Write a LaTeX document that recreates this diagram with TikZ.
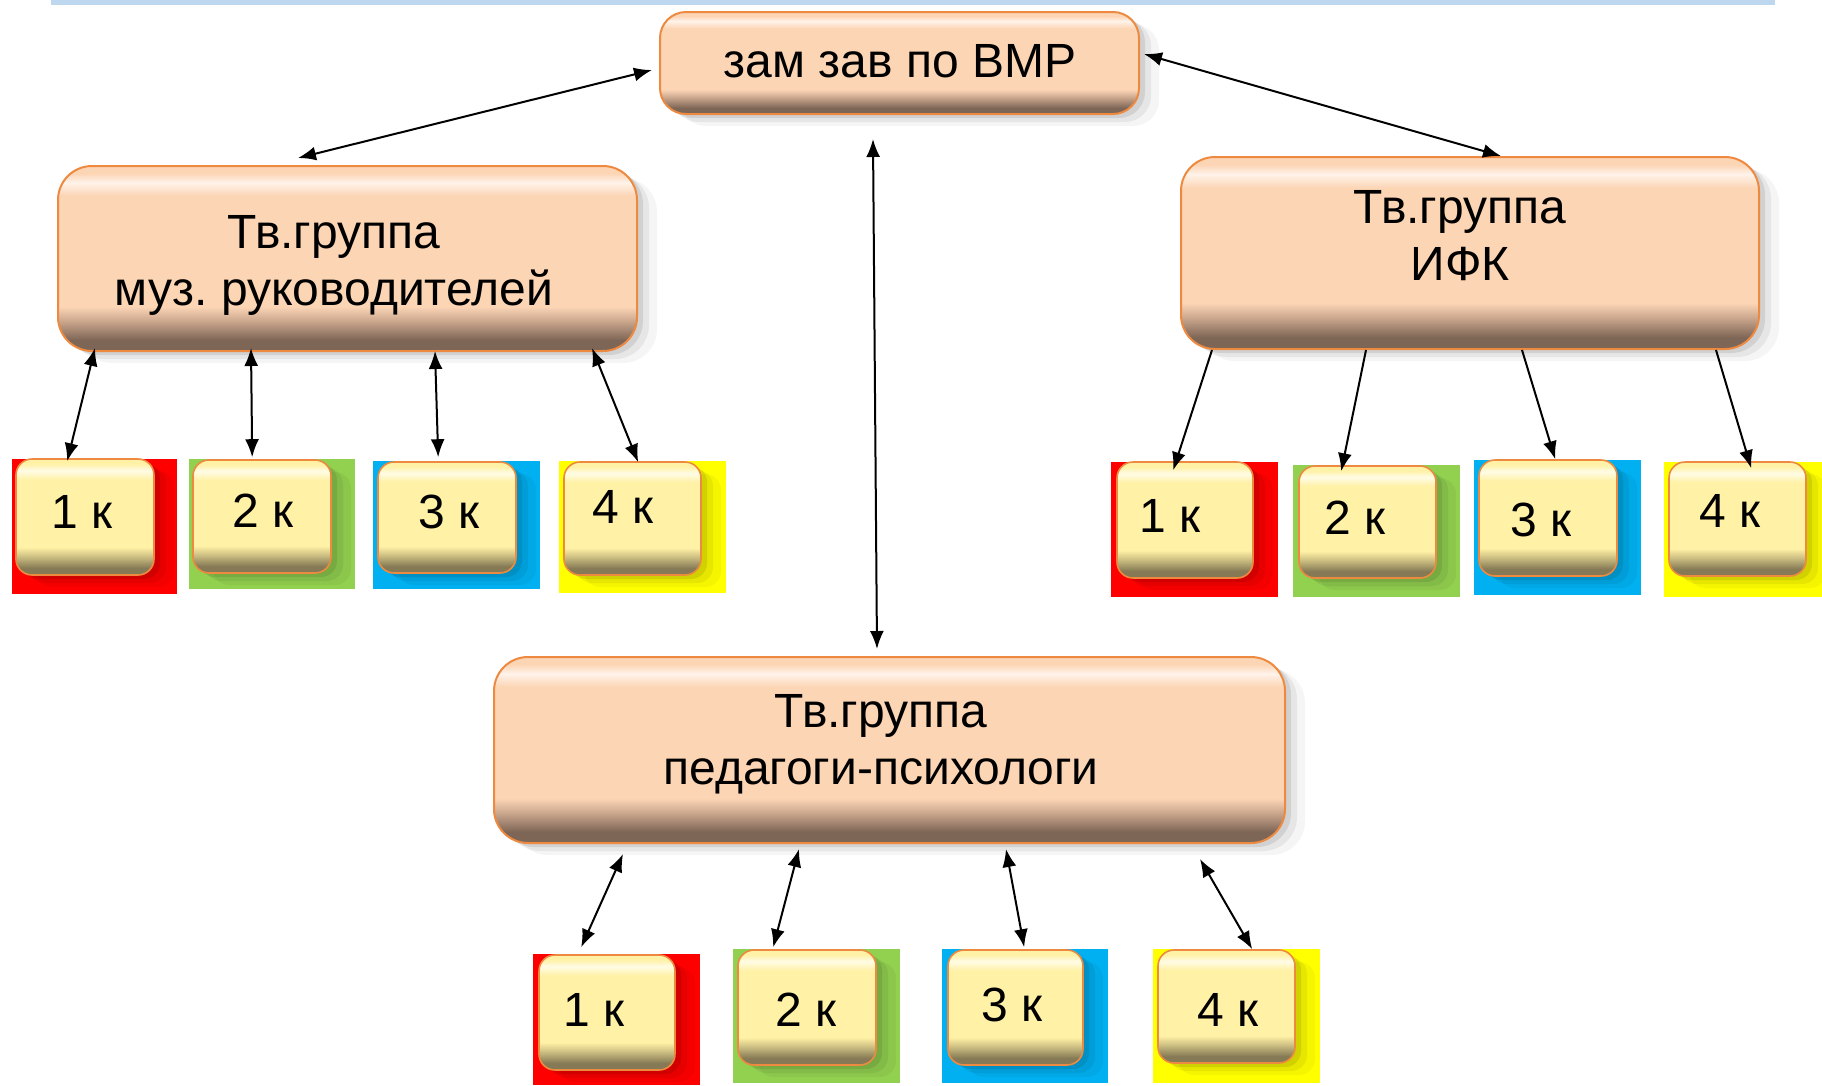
\documentclass[tikz,border=0pt]{standalone}
\usepackage{fontspec}
\setmainfont{Liberation Sans}
\usetikzlibrary{arrows.meta,shadows,fit}

\definecolor{peach}{HTML}{FCD5B5}
\definecolor{peachdark}{HTML}{7E6656}
\definecolor{peachmid}{HTML}{C9A58C}
\definecolor{peachlight}{HTML}{FFF3EA}
\definecolor{peachedge}{HTML}{EE8A40}
\definecolor{ylw}{HTML}{FFF1A5}
\definecolor{ylwdark}{HTML}{857A55}
\definecolor{ylwmid}{HTML}{CDBF82}
\definecolor{ylwlight}{HTML}{FFFCE6}
\definecolor{sqred}{HTML}{FF0000}
\definecolor{sqgreen}{HTML}{92D050}
\definecolor{sqblue}{HTML}{00B0F0}
\definecolor{sqyellow}{HTML}{FFFF00}
\definecolor{topline}{HTML}{BDD7EE}

\pgfdeclareverticalshading{peachbevel}{100bp}{color(0bp)=(peachdark); color(25bp)=(peachdark); color(28bp)=(peachdark); color(33bp)=(peachmid); color(37bp)=(peach); color(67bp)=(peach); color(70.5bp)=(peachlight); color(73bp)=(peach); color(100bp)=(peach)}
\pgfdeclareverticalshading{ylwbevel}{100bp}{color(0bp)=(ylwdark); color(25bp)=(ylwdark); color(28bp)=(ylwdark); color(33bp)=(ylwmid); color(37bp)=(ylw); color(66bp)=(ylw); color(70bp)=(ylwlight); color(73bp)=(ylw); color(100bp)=(ylw)}

\tikzset{
  softshadow/.style={
    general shadow={shadow xshift=3bp, shadow yshift=-2bp, opacity=0.09, fill=black},
    general shadow={shadow xshift=6bp, shadow yshift=-4bp, opacity=0.06, fill=black},
    general shadow={shadow xshift=10bp, shadow yshift=-6bp, opacity=0.04, fill=black}},
  bigbox/.style={rectangle, rounded corners=17bp, draw=peachedge, line width=1bp,
    shading=peachbevel, inner sep=0pt, softshadow},
  smallbox/.style={rectangle, rounded corners=8bp, draw=peachedge, line width=0.8bp,
    shading=ylwbevel, inner sep=0pt, softshadow},
  lbl/.style={font=\fontsize{24bp}{28.5bp}\selectfont, align=center, inner sep=0pt},
  dbl/.style={{Latex[length=9bp,width=7bp]}-{Latex[length=9bp,width=7bp]}, line width=1bp},
  sgl/.style={-{Latex[length=9bp,width=7bp]}, line width=1bp},
}

\begin{document}
\frenchspacing
\begin{tikzpicture}[x=0.5bp, y=-0.5bp]
\useasboundingbox (0,0) rectangle (1822,1085);
\fill[white] (0,0) rectangle (1822,1085);
\fill[topline] (51,0) rectangle (1775,5);

% coloured squares
\fill[sqred]    (12,459)  rectangle (177,594);
\fill[sqgreen]  (189,459) rectangle (355,589);
\fill[sqblue]   (373,461) rectangle (540,589);
\fill[sqyellow] (559,461) rectangle (726,593);

\fill[sqred]    (1111,462) rectangle (1278,597);
\fill[sqgreen]  (1293,465) rectangle (1460,597);
\fill[sqblue]   (1474,460) rectangle (1641,595);
\fill[sqyellow] (1664,462) rectangle (1822,597);

\fill[sqred]    (533,954)  rectangle (700,1085);
\fill[sqgreen]  (733,949)  rectangle (900,1083);
\fill[sqblue]   (942,949)  rectangle (1108,1083);
\fill[sqyellow] (1153,949) rectangle (1320,1083);

% main boxes
\node[bigbox, rounded corners=13bp, fit={(660,12) (1139,114)}] (top) {};
\node[bigbox, fit={(58,166) (637,351)}] (lg) {};
\node[bigbox, fit={(1181,157) (1759,349)}] (rg) {};
\node[bigbox, fit={(494,657) (1285,843)}] (bg) {};

\node[lbl, anchor=base] (tt) at (900,77) {зам зав по ВМР};
\node[lbl] (lgt) at (334,265) {Тв.группа\\муз. руководителей};
\node[lbl] (rgt) at (1460,236) {Тв.группа\\ИФК};
\node[lbl] (bgt) at (881,744) {Тв.группа\\педагоги-психологи};

% small boxes
\node[smallbox, fit={(16,459) (154,575)}] (l1) {};
\node[smallbox, fit={(193,460) (331,573)}] (l2) {};
\node[smallbox, fit={(378,462) (516,573)}] (l3) {};
\node[smallbox, fit={(564,462) (701,575)}] (l4) {};

\node[smallbox, fit={(1117,462) (1253,578)}] (r1) {};
\node[smallbox, fit={(1299,466) (1436,578)}] (r2) {};
\node[smallbox, fit={(1479,460) (1617,576)}] (r3) {};
\node[smallbox, fit={(1669,462) (1806,576)}] (r4) {};

\node[smallbox, fit={(539,955) (675,1070)}] (b1) {};
\node[smallbox, fit={(738,950) (876,1065)}] (b2) {};
\node[smallbox, fit={(948,950) (1083,1065)}] (b3) {};
\node[smallbox, fit={(1158,950) (1295,1063)}] (b4) {};

\node[lbl, anchor=base] (l1t) at (82,528)  {1 к};
\node[lbl, anchor=base] (l2t) at (263,527) {2 к};
\node[lbl, anchor=base] (l3t) at (449,528) {3 к};
\node[lbl, anchor=base] (l4t) at (623,523) {4 к};

\node[lbl, anchor=base] (r1t) at (1170,532) {1 к};
\node[lbl, anchor=base] (r2t) at (1355,534) {2 к};
\node[lbl, anchor=base] (r3t) at (1541,536) {3 к};
\node[lbl, anchor=base] (r4t) at (1730,527) {4 к};

\node[lbl, anchor=base] (b1t) at (594,1026)  {1 к};
\node[lbl, anchor=base] (b2t) at (806,1026)  {2 к};
\node[lbl, anchor=base] (b3t) at (1012,1021) {3 к};
\node[lbl, anchor=base] (b4t) at (1228,1026) {4 к};

% connectors
\draw[dbl] ([shift={(-7,7)}]top.west) -- ([shift={(241,-7)}]lg.north west);
\draw[dbl] ([shift={(4,-9)}]top.east) -- ([shift={(321,0)}]rg.north west);
\draw[dbl] ([shift={(-26.5,24)}]top.south) -- ([shift={(-12.5,-7)}]bg.north);

\draw[dbl] ([shift={(38,-4)}]lg.south west) -- ([shift={(52,3)}]l1.north west);
\draw[dbl] ([shift={(194,-4)}]lg.south west) -- ([shift={(60,-2)}]l2.north west);
\draw[dbl] ([shift={(378,-1)}]lg.south west) -- ([shift={(61,-4)}]l3.north west);
\draw[dbl] ([shift={(535,-4)}]lg.south west) -- ([shift={(75,1)}]l4.north west);

\draw[sgl] ([shift={(32,0)}]rg.south west) -- ([shift={(57,9)}]r1.north west);
\draw[sgl] ([shift={(186,0)}]rg.south west) -- ([shift={(43,6)}]r2.north west);
\draw[sgl] ([shift={(342,0)}]rg.south west) -- ([shift={(77,0)}]r3.north west);
\draw[sgl] ([shift={(536,0)}]rg.south west) -- ([shift={(83,7)}]r4.north west);

\draw[dbl] ([shift={(130,10)}]bg.south west) -- ([shift={(43,-7)}]b1.north west);
\draw[dbl] ([shift={(306,5)}]bg.south west) -- ([shift={(36,-2)}]b2.north west);
\draw[dbl] ([shift={(513,5)}]bg.south west) -- ([shift={(77,-2)}]b3.north west);
\draw[dbl] ([shift={(707,15)}]bg.south west) -- ([shift={(95,0)}]b4.north west);
\end{tikzpicture}
\end{document}
